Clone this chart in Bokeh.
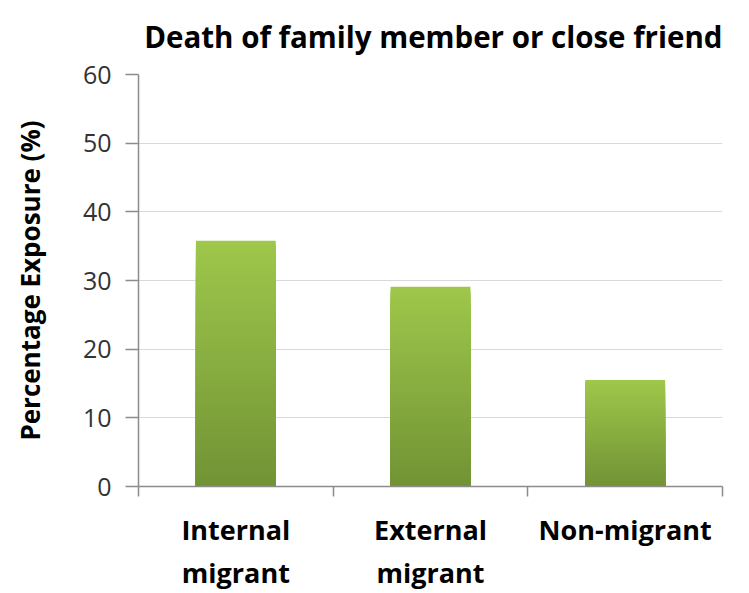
from bokeh.plotting import figure
from bokeh.models import Range1d, FixedTicker, LinearAxis
from bokeh.embed import file_html
from bokeh.resources import INLINE

# ---- data ----
categories_line1 = ["Internal", "External", "Non-migrant"]
categories_line2 = ["migrant", "migrant", ""]
values = [35.8, 29.1, 15.5]
y_ticks = [0, 10, 20, 30, 40, 50, 60]
title_text = "Death of family member or close friend"
y_label = "Percentage Exposure (%)"

# ---- styling ----
TOP_COLOR = (0x9E, 0xC7, 0x4B)
BOTTOM_COLOR = (0x72, 0x93, 0x35)
BAR_WIDTH = 0.41
N_SLICES = 60
FONT = "Open Sans"

W, H = 749, 593
p = figure(width=W, height=H, output_backend="svg", toolbar_location=None,
           x_range=Range1d(0, len(values)), y_range=Range1d(y_ticks[0], y_ticks[-1]),
           x_axis_type=None, min_border_left=138, min_border_right=27,
           min_border_top=74, min_border_bottom=106)
p.outline_line_color = None
p.background_fill_color = "white"
p.border_fill_color = "white"

# title
p.title.text = title_text
p.title.text_font = FONT
p.title.text_font_style = "bold"
p.title.text_font_size = "29.5px"
p.title.text_color = "black"
p.title.align = "right"
p.title.vertical_align = "top"
p.title.standoff = 31

# gradient bars built from the values (nested, tallest first)
xs, tops, colors = [], [], []
for k in reversed(range(N_SLICES)):
    f = k / (N_SLICES - 1)
    c = tuple(int(round(BOTTOM_COLOR[j] + (TOP_COLOR[j] - BOTTOM_COLOR[j]) * f)) for j in range(3))
    for i, v in enumerate(values):
        xs.append(i + 0.5)
        tops.append(v * (k + 1) / N_SLICES)
        colors.append("#%02x%02x%02x" % c)
p.vbar(x=xs, bottom=0, top=tops, width=BAR_WIDTH, fill_color=colors, line_color=None)

# y axis
yax = p.yaxis[0]
yax.ticker = FixedTicker(ticks=y_ticks)
yax.axis_line_color = "#8C8C8C"
yax.axis_line_width = 1.5
yax.major_tick_line_color = "#8C8C8C"
yax.major_tick_line_width = 1.5
yax.major_tick_out = 13
yax.major_tick_in = 0
yax.minor_tick_line_color = None
yax.major_label_text_font = FONT
yax.major_label_text_font_size = "25px"
yax.major_label_text_color = "#333333"
yax.major_label_standoff = 14
yax.axis_label = y_label
yax.axis_label_text_font = FONT
yax.axis_label_text_font_style = "bold"
yax.axis_label_text_font_size = "26px"
yax.axis_label_text_color = "black"
yax.axis_label_standoff = 32

p.ygrid.ticker = FixedTicker(ticks=y_ticks)
p.ygrid.grid_line_color = "#D9D9D9"
p.ygrid.grid_line_width = 1.2
p.xgrid.grid_line_color = None

centers = [i + 0.5 for i in range(len(values))]
bounds = [i for i in range(len(values) + 1)]

# x axis line 1 (with separator ticks)
xax1 = LinearAxis(ticker=FixedTicker(ticks=centers, minor_ticks=bounds))
xax1.major_label_overrides = {c: t for c, t in zip(centers, categories_line1)}
xax1.axis_line_color = "#8C8C8C"
xax1.axis_line_width = 1.5
xax1.major_tick_line_color = None
xax1.major_tick_out = 0
xax1.major_tick_in = 0
xax1.minor_tick_line_color = "#8C8C8C"
xax1.minor_tick_line_width = 1.5
xax1.minor_tick_out = 10
xax1.minor_tick_in = 0
xax1.major_label_text_font = FONT
xax1.major_label_text_font_style = "bold"
xax1.major_label_text_font_size = "27px"
xax1.major_label_text_color = "black"
xax1.major_label_standoff = 14
p.add_layout(xax1, "below")

# x axis line 2
xax2 = LinearAxis(ticker=FixedTicker(ticks=centers, minor_ticks=[]))
xax2.major_label_overrides = {c: t for c, t in zip(centers, categories_line2)}
xax2.axis_line_color = None
xax2.major_tick_line_color = None
xax2.major_tick_out = 0
xax2.major_tick_in = 0
xax2.minor_tick_line_color = None
xax2.major_label_text_font = FONT
xax2.major_label_text_font_style = "bold"
xax2.major_label_text_font_size = "27px"
xax2.major_label_text_color = "black"
xax2.major_label_standoff = 3
p.add_layout(xax2, "below")

open("out.html", "w").write(file_html(p, INLINE))
